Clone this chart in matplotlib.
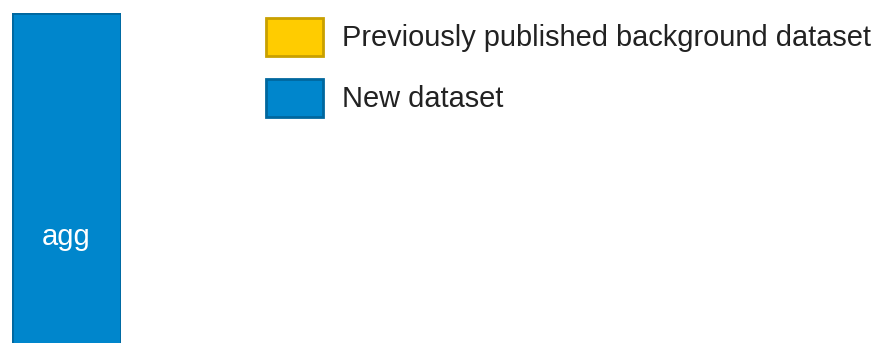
import matplotlib.pyplot as plt
from matplotlib.patches import Patch

plt.rcParams['font.family'] = ['Liberation Sans', 'DejaVu Sans']

categories = ['agg']
values = [100]
legend_labels = ['Previously published background dataset', 'New dataset']
legend_colors = ['#FFCC00', '#0086CC']
legend_edges = ['#C9A000', '#00679E']

W, H = 876, 343
fig = plt.figure(figsize=(W / 100, H / 100), dpi=100)

# bar axes, cut off by the bottom edge of the picture
ax = fig.add_axes([12 / W, -0.2, (121 - 12) / W, 1.2 - 13 / H])
ax.bar(categories, values, width=1.0, color='#0086CC', edgecolor='#00679E', linewidth=2)
ax.set_xlim(-0.5, 0.5)
ax.set_ylim(0, values[0])
ax.axis('off')
ax.text(0, values[0] * (1 - (237 - 13) / (H * 1.2 - 13)), categories[0], color='white',
        ha='center', va='center', fontsize=21)

handles = [Patch(facecolor=c, edgecolor=e, linewidth=2) for c, e in zip(legend_colors, legend_edges)]
fs = 20.9
fpx = fs / 72 * 100
fig.legend(handles, legend_labels, loc='upper left', bbox_to_anchor=(266 / W, 1 - 18 / H),
           frameon=False, fontsize=fs, borderpad=0, borderaxespad=0,
           handlelength=57 / fpx, handleheight=39 / fpx * 39 / 32, handletextpad=19 / fpx,
           labelspacing=23 / fpx, labelcolor='#222222')

fig.savefig('out.png', dpi=100)
